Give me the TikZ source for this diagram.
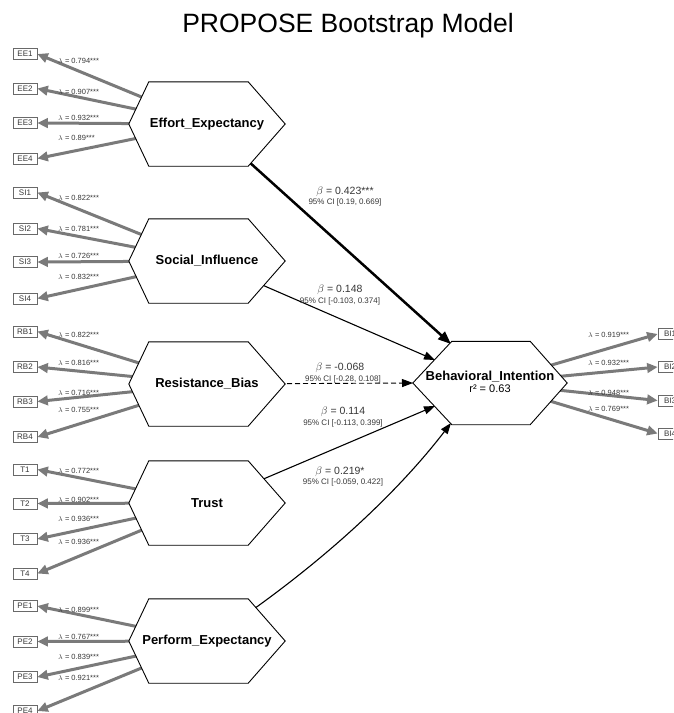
\documentclass[tikz,border=0pt]{standalone}
\usepackage{fontspec}
\setmainfont{Liberation Sans}
\usetikzlibrary{arrows.meta}
\definecolor{loadgray}{RGB}{122,122,122}
\definecolor{boxgray}{RGB}{105,105,105}
\definecolor{txtgray}{RGB}{55,55,55}
\pgfdeclarelayer{bg}
\pgfdeclarelayer{mid}
\pgfsetlayers{bg,mid,main}
\newcommand\drawhexagon[3]{%
  \begin{pgfonlayer}{mid}
  \filldraw[hexline] (#1.west) -- ([xshift=#2]#1.north west) -- ([xshift=-#3]#1.north east)
    -- (#1.east) -- ([xshift=-#3]#1.south east) -- ([xshift=#2]#1.south west) -- cycle;
  \end{pgfonlayer}}
\begin{document}
\begin{tikzpicture}[x=1pt,y=-1pt,
  hexline/.style={draw=black, line width=0.9pt, fill=white, line join=miter},
  lat/.style={rectangle, draw=none, minimum width=156pt, minimum height=84pt,
    inner sep=0pt, align=center, font=\fontsize{13}{13}\selectfont\bfseries},
  ind/.style={draw=boxgray, line width=0.7pt, fill=white, minimum width=24pt,
    minimum height=11pt, inner sep=0.5pt, text=txtgray,
    font=\fontsize{8}{8}\selectfont},
  load/.style={draw=loadgray, line width=3pt, -{Triangle[length=10.5pt,width=9.5pt]}},
  lam/.style={anchor=west, inner sep=0pt, text=txtgray, font=\fontsize{7.5}{7.5}\selectfont},
  struct/.style={draw=black, line width=1.1pt, -{Triangle[length=11pt,width=8pt]}},
  beta/.style={inner sep=0pt, text=txtgray, font=\fontsize{10.5}{10.5}\selectfont},
  ci/.style={inner sep=0pt, text=txtgray, font=\fontsize{8}{8}\selectfont}
]
\useasboundingbox (0,0) rectangle (673,713);
\begin{pgfonlayer}{bg}
\fill[white] (0,0) rectangle (673,713);
\end{pgfonlayer}
\clip (0,0) rectangle (673,713);

\node[inner sep=0pt, font=\fontsize{26.5}{26.5}\selectfont] (title) at (348,26) {PROPOSE Bootstrap Model};

% latent variables
\node[lat] (EE) at (207,124) {Effort\_Expectancy};
\node[lat] (SI) at (207,261) {Social\_Influence};
\node[lat] (RB) at (207,384) {Resistance\_Bias};
\node[lat] (T)  at (207,503) {Trust};
\node[lat] (PE) at (207,641) {Perform\_Expectancy};
\node[lat, minimum width=154pt, minimum height=83pt] (BI) at (490,383) {};
\node[lat] (BIt) at (490,382) {Behavioral\_Intention\\[-1.5pt]{\fontsize{11}{11}\selectfont\mdseries r² = 0.63}};
\drawhexagon{EE}{20pt}{37pt}
\drawhexagon{SI}{20pt}{37pt}
\drawhexagon{RB}{20pt}{37pt}
\drawhexagon{T}{20pt}{37pt}
\drawhexagon{PE}{20pt}{37pt}
\drawhexagon{BI}{39pt}{37pt}

% indicators
\foreach \n/\y in {EE1/54,EE2/88.5,EE3/123,EE4/158.5,
                   SI1/192.5,SI2/228.5,SI3/262,SI4/298.5,
                   RB1/331.5,RB2/367,RB3/401.5,RB4/437,
                   T1/469.5,T2/503.5,T3/539,T4/573.5,
                   PE1/606,PE2/641.5,PE3/677,PE4/711}
  \node[ind] (\n) at (25,\y) {\n};
\foreach \n/\y in {BI1/334,BI2/367,BI3/400.5,BI4/433.5}
  \node[ind] (\n) at (670,\y) {\n};

% arrow ends on the border of Behavioral_Intention
\coordinate (BIee) at (451,344);
\coordinate (BIsi) at (435,360);
\coordinate (BIrb) at (413,383);
\coordinate (BIt)  at (435,406);
\coordinate (BIpe) at (451,423);

\begin{pgfonlayer}{bg}
% loadings
\foreach \l/\i in {EE/EE1,EE/EE2,EE/EE3,EE/EE4,SI/SI1,SI/SI2,SI/SI3,SI/SI4,
                   RB/RB1,RB/RB2,RB/RB3,RB/RB4,T/T1,T/T2,T/T3,T/T4,
                   PE/PE1,PE/PE2,PE/PE3,PE/PE4}
  \draw[load] (\l.center) -- (\i.east);
\foreach \i in {BI1,BI2,BI3,BI4}
  \draw[load] (BI.center) -- (\i.west);
% structural paths
\draw[struct, line width=2.5pt, -{Triangle[length=13pt,width=10pt]}] (EE.center) -- (BIee);
\draw[struct] (SI.center) -- (BIsi);
\draw[struct, dashed, dash pattern=on 5pt off 3pt, line width=0.9pt] (RB.center) -- (BIrb);
\draw[struct] (T.center) -- (BIt);
\draw[struct] (PE.center) .. controls (307,576) and (391,501) .. (BIpe);
\end{pgfonlayer}

% loading labels
\foreach \y/\v in {60.5/0.794***,91.5/0.907***,118/0.932***,138/0.89***,
                   198/0.822***,229/0.781***,256/0.726***,277/0.832***,
                   335/0.822***,363/0.816***,393/0.716***,410/0.755***,
                   471/0.772***,500/0.902***,519/0.936***,542/0.936***,
                   610/0.899***,637/0.767***,657/0.839***,678/0.921***}
  \node[lam] at (58,\y) {$\lambda$ = \v};
\foreach \y/\v in {335/0.919***,363/0.932***,393/0.948***,409/0.769***}
  \node[lam] at (588,\y) {$\lambda$ = \v};

% structural labels
\node[beta] (b1) at (345,192) {$\beta$ = 0.423***};
\node[ci]   (c1) at (345,202) {95\% CI [0.19, 0.669]};
\node[beta] (b2) at (340,290) {$\beta$ = 0.148};
\node[ci]   (c2) at (340,301) {95\% CI [-0.103, 0.374]};
\node[beta] (b3) at (340,368) {$\beta$ = -0.068};
\node[ci]   (c3) at (343,379) {95\% CI [-0.28, 0.108]};
\node[beta] (b4) at (343,412) {$\beta$ = 0.114};
\node[ci]   (c4) at (343,423) {95\% CI [-0.113, 0.399]};
\node[beta] (b5) at (340,472) {$\beta$ = 0.219*};
\node[ci]   (c5) at (343,482) {95\% CI [-0.059, 0.422]};
\end{tikzpicture}
\end{document}
